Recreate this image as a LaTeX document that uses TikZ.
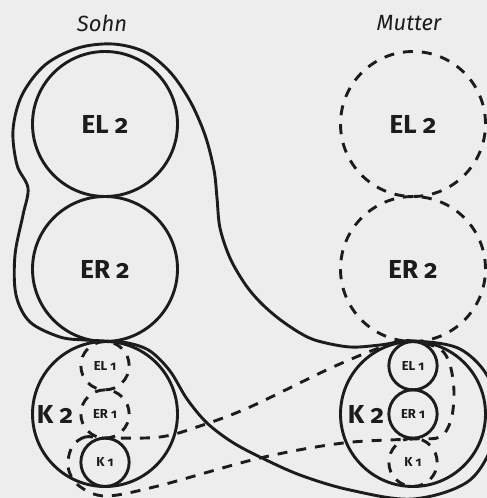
\documentclass[tikz,border=0pt]{standalone}
\usepackage{fontspec}
\setmainfont{Fira Sans}[Numbers=OldStyle]
\definecolor{ink}{HTML}{1C1C1C}
\definecolor{paper}{HTML}{EDEDED}

\begin{document}
\begin{tikzpicture}[
  x=1pt, y=-1pt, color=ink, line width=2.9pt,
  bigring/.style={circle, draw, inner sep=0pt, minimum size=145pt, font=\fontsize{26}{28}\selectfont\bfseries},
  smallring/.style={circle, draw, inner sep=0pt, minimum size=48.3pt, font=\fontsize{13}{14}\selectfont\bfseries},
  dashy/.style={dash pattern=on 10pt off 9pt},
  head/.style={font=\fontsize{22}{24}\selectfont\itshape},
  klab/.style={font=\fontsize{26}{28}\selectfont\bfseries}
]
\clip (0,0) rectangle (487,498);
\fill[paper] (0,0) rectangle (487,498);

% ---- Sohn
\node[head] (sohn) at (102,23) {Sohn};
\node[bigring] (sEL2) at (105,124) {EL 2};
\node[bigring] (sER2) at (105,269) {ER 2};
\node[bigring] (sK2) at (105,414) {};
\node[klab] (sK2lab) at (55,414) {K 2};
\node[smallring, dashy] (sEL1) at (105,365.7) {EL 1};
\node[smallring, dashy] (sER1) at (105,414) {ER 1};
\node[smallring] (sK1) at (105,462.3) {K 1};

% ---- Mutter
\node[head] (mutter) at (409,23) {Mutter};
\node[bigring, dashy] (mEL2) at (413,124) {EL 2};
\node[bigring, dashy] (mER2) at (413,269) {ER 2};
\node[bigring] (mK2) at (413,414) {};
\node[klab] (mK2lab) at (366,414) {K 2};
\node[smallring] (mEL1) at (413,365.7) {EL 1};
\node[smallring] (mER1) at (413,414) {ER 1};
\node[smallring, dashy] (mK1) at (413,462.3) {K 1};

% ---- solid loop: Sohn EL2 + ER2 with Mutter K2
\draw plot[smooth cycle, tension=0.55] coordinates {
  (105,341) (128,343) (150,351) (170,371) (187,399) (207,423) (232,442)
  (260,457) (300,475) (350,490) (413,499) (470,480) (496,432) (490,381)
  (460,349) (413,341) (380,345) (350,347) (318,341) (300,333) (278,318)
  (260,302) (245,284) (230,258) (220,228) (217,198) (214,170) (205,135)
  (190,101) (170,72) (145,52) (113,44) (78,48) (45,65) (22,95) (13,130)
  (17,165) (28,188) (23,215) (15,255) (16,295) (30,322) (60,337) (85,340)};

% ---- dashed loop: Sohn K1 with Mutter EL1 + ER1
\draw[dashy] plot[smooth cycle, tension=0.55] coordinates {
  (105,438) (85,437) (72,447) (68,467) (78,485) (105,496) (158,486)
  (260,458) (343,443) (413,439) (440,437) (451,420) (454,392) (450,365)
  (440,349) (413,341) (390,344) (333,367) (250,407) (200,426) (160,437)};
\end{tikzpicture}
\end{document}
